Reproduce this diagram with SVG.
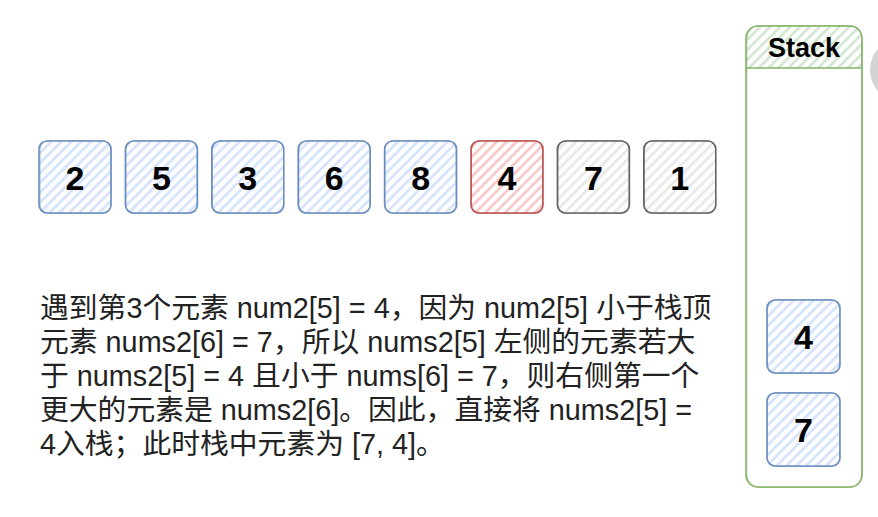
<svg xmlns="http://www.w3.org/2000/svg" width="878" height="517" viewBox="0 0 878 517">
  <defs>
    <pattern id="hBlue" width="7" height="7" patternUnits="userSpaceOnUse" patternTransform="rotate(45)">
      <line x1="3.5" y1="0" x2="3.5" y2="7" stroke="#d3e2fa" stroke-width="2.6"/>
    </pattern>
    <pattern id="hRed" width="7" height="7" patternUnits="userSpaceOnUse" patternTransform="rotate(45)">
      <line x1="3.5" y1="0" x2="3.5" y2="7" stroke="#f6c6c4" stroke-width="2.6"/>
    </pattern>
    <pattern id="hGrey" width="7" height="7" patternUnits="userSpaceOnUse" patternTransform="rotate(45)">
      <line x1="3.5" y1="0" x2="3.5" y2="7" stroke="#e8e8e8" stroke-width="2.6"/>
    </pattern>
    <pattern id="hGreen" width="7" height="7" patternUnits="userSpaceOnUse" patternTransform="rotate(45)">
      <line x1="3.5" y1="0" x2="3.5" y2="7" stroke="#d0e6ce" stroke-width="2.6"/>
    </pattern>
  </defs>
  <style>
    .box { stroke-width: 1.6; }
    .blue { fill: url(#hBlue); stroke: #6c8ebf; }
    .red { fill: url(#hRed); stroke: #b85450; }
    .grey { fill: url(#hGrey); stroke: #666666; }
    .sk { fill: none; stroke-width: 1; opacity: 0.6; }
    .num { font-family: "Liberation Sans", Arial, sans-serif; font-weight: bold; font-size: 34px; text-anchor: middle; fill: #000; }
    .desc { font-family: "Liberation Sans", "Noto Sans CJK SC", sans-serif; font-size: 28.8px; fill: #222; }
    .title { font-family: "Liberation Sans", Arial, sans-serif; font-weight: bold; font-size: 27px; text-anchor: middle; fill: #000; }
  </style>
  <rect width="878" height="517" fill="#ffffff"/>

  <g id="arr0"><rect class="box blue" x="39" y="141" width="72" height="72" rx="8"/><rect class="sk" stroke="#6c8ebf" x="40" y="140.5" width="71" height="73" rx="9"/><text class="num" x="75" y="190">2</text></g>
  <g id="arr1"><rect class="box blue" x="125.4" y="141" width="72" height="72" rx="8"/><rect class="sk" stroke="#6c8ebf" x="126" y="140.5" width="71" height="73" rx="9"/><text class="num" x="161.4" y="190">5</text></g>
  <g id="arr2"><rect class="box blue" x="211.8" y="141" width="72" height="72" rx="8"/><rect class="sk" stroke="#6c8ebf" x="212.5" y="140.5" width="71" height="73" rx="9"/><text class="num" x="247.8" y="190">3</text></g>
  <g id="arr3"><rect class="box blue" x="298.2" y="141" width="72" height="72" rx="8"/><rect class="sk" stroke="#6c8ebf" x="299" y="140.5" width="71" height="73" rx="9"/><text class="num" x="334.2" y="190">6</text></g>
  <g id="arr4"><rect class="box blue" x="384.6" y="141" width="72" height="72" rx="8"/><rect class="sk" stroke="#6c8ebf" x="385" y="140.5" width="71" height="73" rx="9"/><text class="num" x="420.6" y="190">8</text></g>
  <g id="arr5"><rect class="box red" x="471" y="141" width="72" height="72" rx="8"/><rect class="sk" stroke="#b85450" x="471.5" y="140.5" width="71" height="73" rx="9"/><text class="num" x="507" y="190">4</text></g>
  <g id="arr6"><rect class="box grey" x="557.4" y="141" width="72" height="72" rx="8"/><rect class="sk" stroke="#666666" x="558" y="140.5" width="71" height="73" rx="9"/><text class="num" x="593.4" y="190" fill="#222">7</text></g>
  <g id="arr7"><rect class="box grey" x="643.8" y="141" width="72" height="72" rx="8"/><rect class="sk" stroke="#666666" x="644.5" y="140.5" width="71" height="73" rx="9"/><text class="num" x="679.8" y="190" fill="#222">1</text></g>

  <g id="stack">
    <path d="M746,68 L746,38 Q746,26 758,26 L850,26 Q862,26 862,38 L862,68 Z" fill="url(#hGreen)" stroke="none"/>
    <rect x="746" y="26" width="116" height="461" rx="12" fill="none" stroke="#82b366" stroke-width="1.6"/>
    <rect x="746.8" y="25.5" width="115" height="462" rx="13" fill="none" stroke="#82b366" stroke-width="1" opacity="0.6"/>
    <line x1="746" y1="68" x2="862" y2="68" stroke="#82b366" stroke-width="1.6"/>
    <text class="title" x="804" y="57">Stack</text>
  </g>

  <g id="stack4"><rect class="box blue" x="767" y="300" width="73" height="73" rx="8"/><rect class="sk" stroke="#6c8ebf" x="767.5" y="299.5" width="72" height="74" rx="9"/><text class="num" x="803.5" y="349">4</text></g>
  <g id="stack7"><rect class="box blue" x="767" y="393" width="73" height="73" rx="8"/><rect class="sk" stroke="#6c8ebf" x="767.5" y="392.5" width="72" height="74" rx="9"/><text class="num" x="803.5" y="442">7</text></g>

  <g id="description">
    <text class="desc" x="40" y="318">遇到第3个元素 num2[5] = 4，因为 num2[5] 小于栈顶</text>
    <text class="desc" x="40" y="352">元素 nums2[6] = 7，所以 nums2[5] 左侧的元素若大</text>
    <text class="desc" x="40" y="386">于 nums2[5] = 4 且小于 nums[6] = 7，则右侧第一个</text>
    <text class="desc" x="40" y="420">更大的元素是 nums2[6]。因此，直接将 nums2[5] =</text>
    <text class="desc" x="40" y="454">4入栈；此时栈中元素为 [7, 4]。</text>
  </g>

  <g id="connectors"></g>

  <circle cx="902" cy="70" r="32" fill="#d4d4d4"/>
</svg>
